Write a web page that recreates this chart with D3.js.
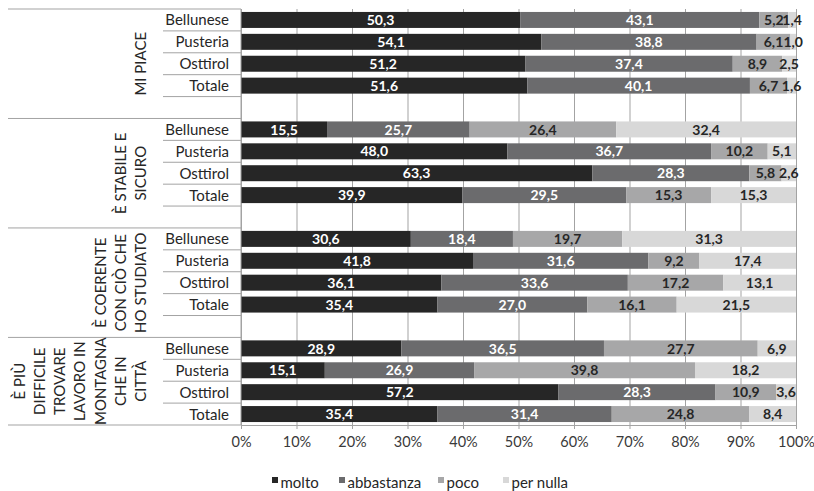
<!DOCTYPE html>
<html>
<head>
<meta charset="utf-8">
<script src="https://cdn.jsdelivr.net/npm/d3@7"></script>
<style>
  body { margin: 0; background: #fff; }
  svg { display: block; font-family: Lato, "Open Sans", sans-serif; }
  .grid line { stroke: #a3a3a3; }
  .grid .domain { display: none; }
</style>
</head>
<body>
<div id="chart"></div>
<script>
var width = 814, height = 491;

// data
var groups = ["MI PIACE", "È STABILE E SICURO", "È COERENTE CON CIÒ CHE HO STUDIATO", "È PIÙ DIFFICILE TROVARE LAVORO IN MONTAGNA CHE IN CITTÀ"];
var groupLines = [
  ["MI PIACE"],
  ["È STABILE E", "SICURO"],
  ["È COERENTE", "CON CIÒ CHE", "HO STUDIATO"],
  ["È PIÙ", "DIFFICILE", "TROVARE", "LAVORO IN", "MONTAGNA", "CHE IN", "CITTÀ"]
];
var areas = ["Bellunese", "Pusteria", "Osttirol", "Totale"];
var series = ["molto", "abbastanza", "poco", "per nulla"];
var molto      = [50.3, 54.1, 51.2, 51.6,  15.5, 48.0, 63.3, 39.9,  30.6, 41.8, 36.1, 35.4,  28.9, 15.1, 57.2, 35.4];
var abbastanza = [43.1, 38.8, 37.4, 40.1,  25.7, 36.7, 28.3, 29.5,  18.4, 31.6, 33.6, 27.0,  36.5, 26.9, 28.3, 31.4];
var poco       = [5.2, 6.1, 8.9, 6.7,      26.4, 10.2, 5.8, 15.3,   19.7, 9.2, 17.2, 16.1,   27.7, 39.8, 10.9, 24.8];
var perNulla   = [1.4, 1.0, 2.5, 1.6,      32.4, 5.1, 2.6, 15.3,    31.3, 17.4, 13.1, 21.5,  6.9, 18.2, 3.6, 8.4];
var xTicks = [0, 10, 20, 30, 40, 50, 60, 70, 80, 90, 100];

var colors = ["#262626", "#6b6b6d", "#a7a7a8", "#d8d8d8"];
var labelColors = ["#ffffff", "#ffffff", "#262626", "#262626"];

// rows: 4 per group plus an empty spacer between groups
var rows = [];
groups.forEach(function(g, gi) {
  areas.forEach(function(a, ai) {
    var i = gi * 4 + ai;
    rows.push({id: gi + "-" + a, group: gi, area: a, values: [molto[i], abbastanza[i], poco[i], perNulla[i]]});
  });
  if (gi < groups.length - 1) rows.push({id: gi + "-spacer", group: gi, spacer: true});
});

var x = d3.scaleLinear().domain([0, 100]).range([241, 796]);
var y = d3.scaleBand()
  .domain(rows.map(d => d.id))
  .range([9, 425])
  .paddingInner(0.27)
  .paddingOuter(0.135);

var fmt = d3.format(".1f");
var svg = d3.select("#chart").append("svg")
  .attr("width", width)
  .attr("height", height);

// vertical grid
svg.append("g")
  .attr("class", "grid")
  .attr("transform", "translate(0,429)")
  .call(d3.axisBottom(x).tickValues(xTicks).tickSize(-420).tickFormat(""));

// bottom axis labels
var xAxis = svg.append("g")
  .attr("transform", "translate(0,425)")
  .call(d3.axisBottom(x).tickValues(xTicks).tickSize(0).tickPadding(12).tickFormat(d => d + "%"));
xAxis.select(".domain").attr("stroke", "#a3a3a3");
xAxis.selectAll("text")
  .attr("fill", "#3a3a3a")
  .style("font-size", "14.5px")
  .style("font-family", "Lato, sans-serif");

// stacked bars
var stack = d3.stack()
  .keys([0, 1, 2, 3])
  .value((d, k) => d.values[k]);
var dataRows = rows.filter(d => !d.spacer);
var layers = stack(dataRows);

var layer = svg.append("g")
  .selectAll("g")
  .data(layers)
  .enter()
  .append("g")
  .attr("fill", d => colors[d.key]);

layer.selectAll("rect")
  .data(d => d)
  .enter()
  .append("rect")
  .attr("x", d => x(d[0]))
  .attr("y", d => y(d.data.id))
  .attr("width", d => x(d[1]) - x(d[0]))
  .attr("height", y.bandwidth());

layer.selectAll("text")
  .data(d => d.map(p => ({p: p, key: d.key})))
  .enter()
  .append("text")
  .attr("x", d => x((d.p[0] + d.p[1]) / 2))
  .attr("y", d => y(d.p.data.id) + y.bandwidth() / 2)
  .attr("dy", "0.37em")
  .attr("text-anchor", "middle")
  .attr("fill", d => labelColors[d.key])
  .style("font-size", "14px")
  .style("font-weight", "bold")
  .text(d => fmt(d.p[1] - d.p[0]).replace(".", ","));

// left axis line
svg.append("line")
  .attr("x1", 241).attr("x2", 241)
  .attr("y1", 9).attr("y2", 425)
  .attr("stroke", "#a3a3a3");

// category separators
var step = y.step();
var bounds = d3.range(rows.length + 1).map(i => 9 + i * step);
svg.append("g")
  .selectAll("line")
  .data(bounds)
  .enter()
  .append("line")
  .attr("x1", function(d, i) {
    // group boundaries go across the whole label area
    return (i % 5 === 0 || i === rows.length) ? 8 : 163;
  })
  .attr("x2", 241)
  .attr("y1", d => d)
  .attr("y2", d => d)
  .attr("stroke", "#a3a3a3");

// area labels
svg.append("g")
  .selectAll("text")
  .data(dataRows)
  .enter()
  .append("text")
  .attr("x", 229)
  .attr("y", d => y(d.id) + y.bandwidth() / 2)
  .attr("dy", "0.37em")
  .attr("text-anchor", "end")
  .attr("fill", "#262626")
  .style("font-size", "15px")
  .text(d => d.area);

// group labels, rotated
groupLines.forEach(function(lines, gi) {
  var top = bounds[gi * 5];
  var bottom = gi < groups.length - 1 ? bounds[gi * 5 + 5] : bounds[rows.length];
  var cy = (top + bottom) / 2;
  var n = lines.length;
  svg.append("g")
    .selectAll("text")
    .data(lines)
    .enter()
    .append("text")
    .attr("transform", "rotate(-90)")
    .attr("x", -cy)
    .attr("y", (d, i) => 146 - (n - 1 - i) * 20.2)
    .attr("text-anchor", "middle")
    .attr("fill", "#262626")
    .style("font-size", "15px")
    .text(d => d);
});

// legend
var legendX = [272, 339, 438, 503];
var legend = svg.append("g")
  .selectAll("g")
  .data(series)
  .enter()
  .append("g")
  .attr("transform", (d, i) => "translate(" + legendX[i] + ",477)");
legend.append("rect")
  .attr("width", 6)
  .attr("height", 6)
  .attr("fill", (d, i) => colors[i]);
legend.append("text")
  .attr("x", 8.5)
  .attr("y", 11)
  .attr("fill", "#262626")
  .style("font-size", "15px")
  .text(d => d);
</script>
</body>
</html>
